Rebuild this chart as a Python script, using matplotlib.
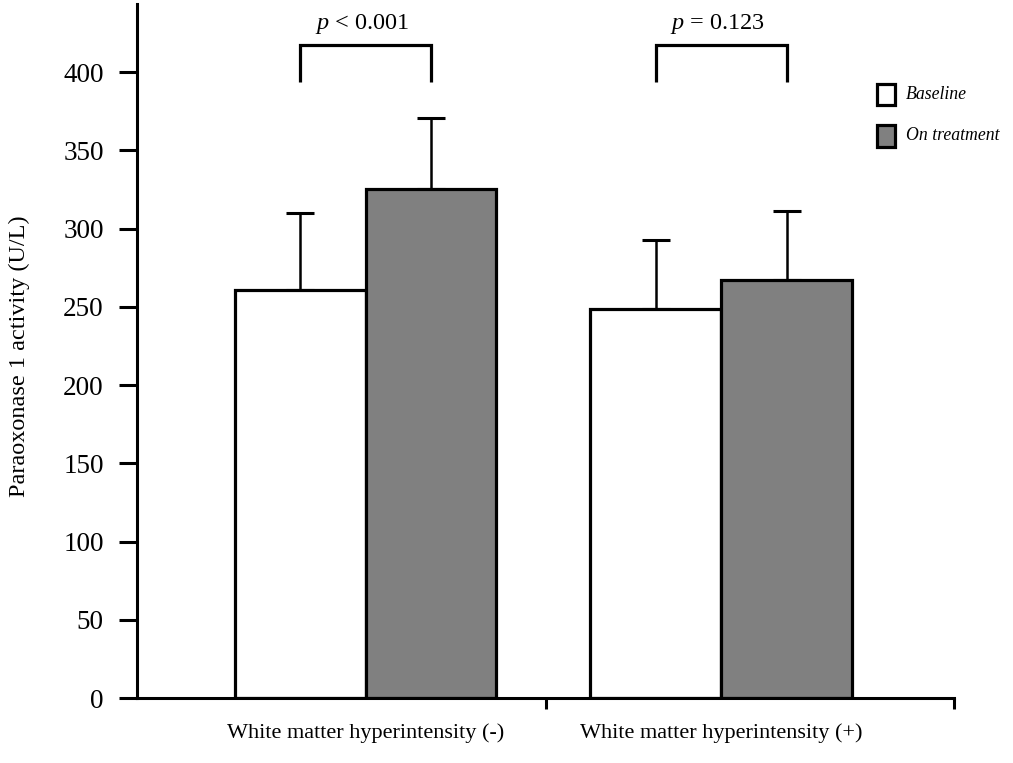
import numpy as np
import matplotlib
matplotlib.use("Agg")
import matplotlib.pyplot as plt
from matplotlib.patches import Rectangle
from matplotlib import transforms

plt.rcParams['font.family'] = ['Liberation Serif', 'DejaVu Serif']
plt.rcParams['mathtext.fontset'] = 'custom'
plt.rcParams['mathtext.rm'] = 'Liberation Serif'
plt.rcParams['mathtext.it'] = 'Liberation Serif:italic'

# data
groups = ["White matter hyperintensity (-)", "White matter hyperintensity (+)"]
baseline = [260.7, 248.4]
baseline_sd = [49.2, 44.6]
treatment = [325.4, 267.1]
treatment_sd = [45.0, 44.1]
p_labels = ["$p$ < 0.001", "$p$ = 0.123"]
yticks = [0, 50, 100, 150, 200, 250, 300, 350, 400]

# bar layout (x in data units, groups span 0-1 and 1-2)
base_x = np.array([0.40, 1.27])
treat_x = np.array([0.72, 1.59])
width = 0.32
W, H = 1013, 763

fig = plt.figure(figsize=(W / 100, H / 100), dpi=100)
ax = fig.add_axes([137 / W, (H - 698) / H, (954 - 137) / W, (698 - 4) / H])

lw = 2.3
ax.bar(base_x, baseline, width, color="white", edgecolor="black", linewidth=lw, zorder=2)
ax.bar(treat_x, treatment, width, color="#808080", edgecolor="black", linewidth=lw, zorder=2)

for xs, vals, sd in [(base_x, baseline, baseline_sd), (treat_x, treatment, treatment_sd)]:
    ax.errorbar(xs, vals, yerr=[np.zeros(len(sd)), sd], fmt="none", ecolor="black",
                elinewidth=1.8, capsize=10, capthick=2.2, zorder=1)

ax.set_xlim(0, 2)
ax.set_ylim(0, 443.5)
ax.set_yticks(yticks)
ax.set_yticklabels([str(t) for t in yticks], fontsize=19.5)
ax.set_xticks([1, 2])
ax.set_xticklabels([])
ax.tick_params(axis="y", direction="out", length=13, width=2.2, pad=11)
ax.tick_params(axis="x", direction="out", length=8, width=2.2)
for s in ["top", "right"]:
    ax.spines[s].set_visible(False)
for s in ["left", "bottom"]:
    ax.spines[s].set_linewidth(2.2)

fig.text(19 / W, 1 - 356 / H, "Paraoxonase 1 activity (U/L)", rotation=90,
         ha="center", va="center", fontsize=17.5)

# significance brackets
top, foot = 417.3, 393.6
for i in range(2):
    x0, x1 = base_x[i], treat_x[i]
    ax.plot([x0, x0, x1, x1], [foot, top, top, foot], color="black", lw=2.3,
            clip_on=False, solid_capstyle="butt", solid_joinstyle="miter")
    ax.text((x0 + x1) / 2 - 0.008, 431, p_labels[i], ha="center", va="center",
            fontsize=17.5, clip_on=False)

# group labels under the axis
trans = transforms.blended_transform_factory(ax.transData, fig.transFigure)
for i, g in enumerate(groups):
    cx = (base_x[i] - width / 2 + treat_x[i] + width / 2) / 2
    ax.text(cx, 1 - 733 / H, g, transform=trans, ha="center", va="center", fontsize=16)

# legend drawn by hand in figure pixels
leg = [("Baseline", "white", 94.5), ("On treatment", "#808080", 136)]
for name, col, yc in leg:
    fig.patches.append(Rectangle((877 / W, 1 - (yc + 10.5) / H), 18 / W, 21 / H,
                                 facecolor=col, edgecolor="black", linewidth=2.3,
                                 transform=fig.transFigure))
    fig.text(906 / W, 1 - yc / H, name, ha="left", va="center", fontsize=12.8, style="italic")

fig.savefig("out.png", dpi=100)
